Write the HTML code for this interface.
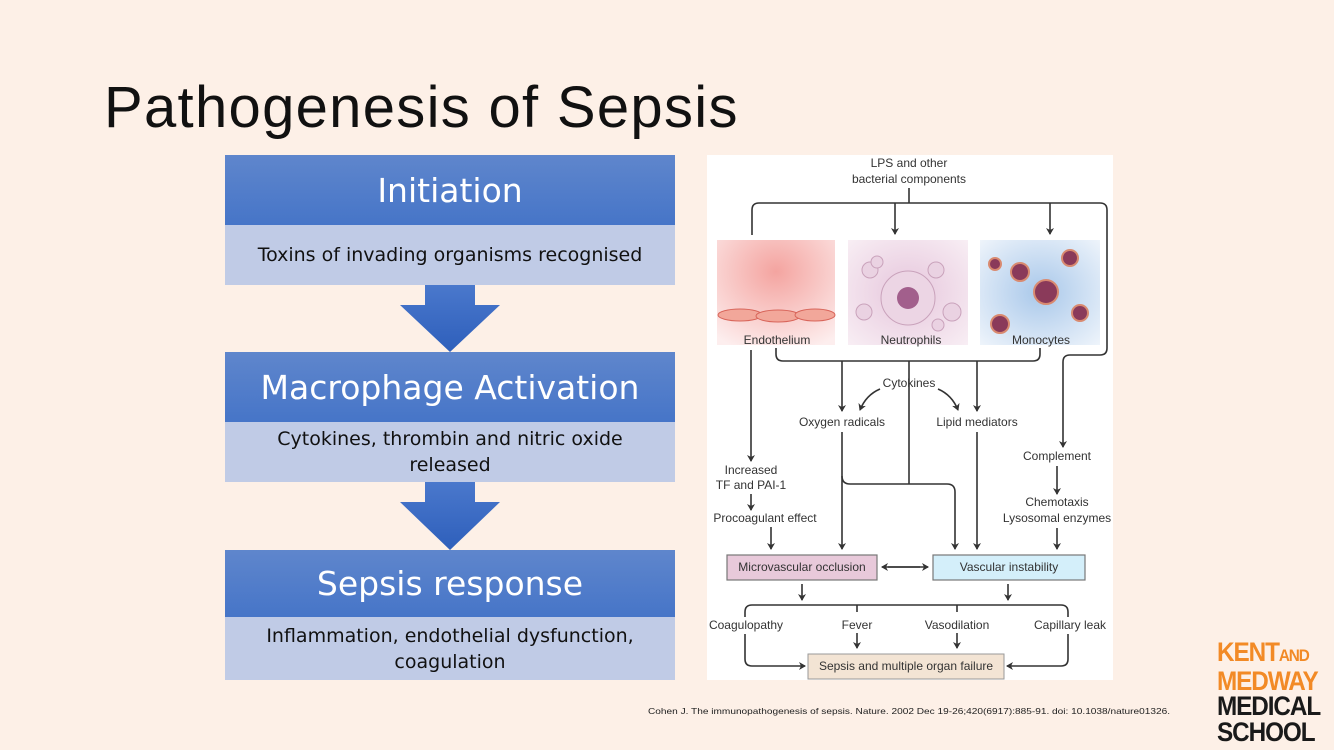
<!DOCTYPE html>
<html><head><meta charset="utf-8"><style>
body{margin:0;width:1334px;height:750px;background:#fdf0e7;position:relative;overflow:hidden;font-family:"Liberation Sans",sans-serif}
.t{position:absolute;left:104px;top:74px;font-size:58px;letter-spacing:1.3px;color:#111}
.h{position:absolute;left:225px;width:450px;background:linear-gradient(#5f86cc,#4675c8);color:#fff;font-family:"DejaVu Sans","Liberation Sans",sans-serif;display:flex;align-items:center;justify-content:center;font-size:33px}
.s{position:absolute;left:225px;width:450px;background:#c0cbe6;color:#111;font-family:"DejaVu Sans","Liberation Sans",sans-serif;display:flex;align-items:center;justify-content:center;text-align:center;font-size:19px;line-height:26px}
.logo{position:absolute;left:1217px;top:640px;font-family:"Liberation Sans",sans-serif;font-weight:bold;font-size:27px;line-height:25.5px;letter-spacing:-1.2px;transform:scaleX(0.9);transform-origin:left}
</style></head><body>
<div class="t">Pathogenesis of Sepsis</div>
<div class="h" style="top:155px;height:70px">Initiation</div>
<div class="s" style="top:225px;height:60px">Toxins of invading organisms recognised</div>
<div class="h" style="top:352px;height:70px">Macrophage Activation</div>
<div class="s" style="top:422px;height:60px">Cytokines, thrombin and nitric oxide<br>released</div>
<div class="h" style="top:550px;height:67px">Sepsis response</div>
<div class="s" style="top:617px;height:63px">Inflammation, endothelial dysfunction,<br>coagulation</div>
<svg width="1334" height="750" style="position:absolute;left:0;top:0" font-family="Liberation Sans,sans-serif">
<defs>
<linearGradient id="ag" x1="0" y1="0" x2="0" y2="1"><stop offset="0" stop-color="#4a78cc"/><stop offset="1" stop-color="#2e5fbb"/></linearGradient>
<marker id="a" markerWidth="8" markerHeight="8" refX="6" refY="4" orient="auto" markerUnits="userSpaceOnUse"><path d="M0,0 L7,4 L0,8 L2,4z" fill="#333"/></marker>
<radialGradient id="e" cx=".5" cy=".3" r=".8"><stop offset="0" stop-color="#f4a4a0"/><stop offset="1" stop-color="#fdeeee"/></radialGradient>
<radialGradient id="n" cx=".5" cy=".5" r=".7"><stop offset="0" stop-color="#e6c6dc"/><stop offset="1" stop-color="#f8eef4"/></radialGradient>
<radialGradient id="m" cx=".5" cy=".5" r=".7"><stop offset="0" stop-color="#a9c8ea"/><stop offset="1" stop-color="#eef4fb"/></radialGradient>
</defs>
<path d="M425,285h50v20h25l-50,47l-50,-47h25z" fill="url(#ag)"/>
<path d="M425,482h50v20h25l-50,48l-50,-48h25z" fill="url(#ag)"/>
<rect x="707" y="155" width="406" height="525" fill="#fff"/>
<rect x="717" y="240" width="118" height="105" fill="url(#e)"/>
<g fill="#f2a79a" stroke="#d8655a" stroke-width="1"><ellipse cx="740" cy="315" rx="22" ry="6"/><ellipse cx="778" cy="316" rx="22" ry="6"/><ellipse cx="815" cy="315" rx="20" ry="6"/></g>
<rect x="848" y="240" width="120" height="105" fill="url(#n)"/>
<circle cx="908" cy="298" r="27" fill="#ecd5e4" stroke="#c9a2bb"/><circle cx="908" cy="298" r="11" fill="#a25f8c"/>
<g fill="#ead2e2" stroke="#c9a2bb"><circle cx="870" cy="270" r="8"/><circle cx="877" cy="262" r="6"/><circle cx="936" cy="270" r="8"/><circle cx="952" cy="312" r="9"/><circle cx="864" cy="312" r="8"/><circle cx="938" cy="325" r="6"/></g>
<rect x="980" y="240" width="120" height="105" fill="url(#m)"/>
<g fill="#8a3a5a" stroke="#d98a70" stroke-width="2"><circle cx="995" cy="264" r="6"/><circle cx="1020" cy="272" r="9"/><circle cx="1070" cy="258" r="8"/><circle cx="1046" cy="292" r="12"/><circle cx="1080" cy="313" r="8"/><circle cx="1000" cy="324" r="9"/></g>
<g fill="#333" font-size="12" text-anchor="middle">
<text x="909" y="167">LPS and other</text><text x="909" y="183">bacterial components</text>
<text x="777" y="344">Endothelium</text><text x="911" y="344">Neutrophils</text><text x="1041" y="344">Monocytes</text>
<text x="909" y="387">Cytokines</text>
<text x="842" y="426">Oxygen radicals</text><text x="977" y="426">Lipid mediators</text>
<text x="751" y="474">Increased</text><text x="751" y="489">TF and PAI-1</text>
<text x="765" y="522">Procoagulant effect</text>
<text x="1057" y="460">Complement</text><text x="1057" y="506">Chemotaxis</text><text x="1057" y="522">Lysosomal enzymes</text>
<text x="746" y="629">Coagulopathy</text><text x="857" y="629">Fever</text><text x="957" y="629">Vasodilation</text><text x="1070" y="629">Capillary leak</text>
</g>
<g stroke="#333" stroke-width="1.6" fill="none">
<path d="M909,188V203"/>
<path d="M752,235V210q0,-7 7,-7H1100q7,0 7,7V348q0,7 -7,7H1070q-7,0 -7,7V447" marker-end="url(#a)"/>
<path d="M895,203V234" marker-end="url(#a)"/><path d="M1050,203V234" marker-end="url(#a)"/>
<path d="M751,350V461" marker-end="url(#a)"/>
<path d="M776,348v6q0,7 7,7H1033q7,0 7,-7v-6"/>
<path d="M842,361V411" marker-end="url(#a)"/><path d="M977,361V411" marker-end="url(#a)"/>
<path d="M909,361V484"/>
<path d="M880,389Q866,395 860,410" marker-end="url(#a)"/><path d="M938,389Q952,395 958,410" marker-end="url(#a)"/>
<path d="M842,432V549" marker-end="url(#a)"/>
<path d="M842,476q0,8 8,8H947q8,0 8,8V549" marker-end="url(#a)"/>
<path d="M977,432V549" marker-end="url(#a)"/>
<path d="M751,494V510" marker-end="url(#a)"/><path d="M771,527V549" marker-end="url(#a)"/>
<path d="M1057,466V494" marker-end="url(#a)"/><path d="M1057,528V549" marker-end="url(#a)"/>
<path d="M888,567H928" marker-end="url(#a)"/><path d="M920,567H882" marker-end="url(#a)"/>
<path d="M802,584V600" marker-end="url(#a)"/><path d="M1008,584V600" marker-end="url(#a)"/>
<path d="M745,617v-5q0,-7 7,-7H1061q7,0 7,7v5"/>
<path d="M857,605V612M957,605V612"/>
<path d="M857,633V648" marker-end="url(#a)"/><path d="M957,633V648" marker-end="url(#a)"/>
<path d="M745,634V659q0,7 7,7H805" marker-end="url(#a)"/>
<path d="M1068,634V659q0,7 -7,7H1007" marker-end="url(#a)"/>
</g>
<rect x="727" y="555" width="150" height="25" fill="#e8c9da" stroke="#777" stroke-width="1.2"/>
<rect x="933" y="555" width="152" height="25" fill="#d4effa" stroke="#777" stroke-width="1.2"/>
<rect x="808" y="654" width="196" height="25" fill="#f3e4d4" stroke="#999" stroke-width="1"/>
<g fill="#333" font-size="12" text-anchor="middle">
<text x="802" y="571">Microvascular occlusion</text><text x="1009" y="571">Vascular instability</text>
<text x="906" y="670">Sepsis and multiple organ failure</text></g>
<text x="648" y="714" font-size="8.3" fill="#222" textLength="522" lengthAdjust="spacingAndGlyphs">Cohen J. The immunopathogenesis of sepsis. Nature. 2002 Dec 19-26;420(6917):885-91. doi: 10.1038/nature01326.</text>
</svg>
<div class="logo"><span style="color:#f28a26">KENT<span style="font-size:17px">AND</span><br>MEDWAY</span><br><span style="color:#1a1a1a">MEDICAL<br>SCHOOL</span></div>
</body></html>
